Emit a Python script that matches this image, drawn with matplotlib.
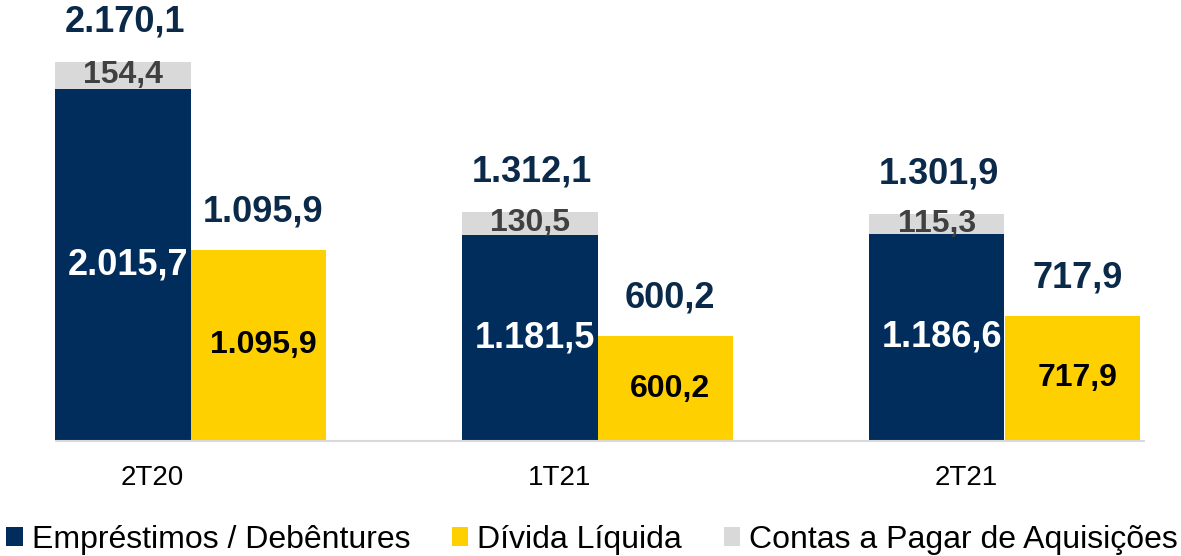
import matplotlib
matplotlib.use("Agg")
import matplotlib.pyplot as plt
from matplotlib.patches import Patch
import numpy as np

categories = ['2T20', '1T21', '2T21']
emprestimos = [2015.7, 1181.5, 1186.6]
contas = [154.4, 130.5, 115.3]
divida = [1095.9, 600.2, 717.9]
totais = [2170.1, 1312.1, 1301.9]
legend_labels = ['Empréstimos / Debêntures', 'Dívida Líquida', 'Contas a Pagar de Aquisições']

NAVY = '#002D5C'
YELLOW = '#FFD000'
GRAY = '#D9D9D9'


def fmt(v):
    return f"{v:,.1f}".replace(',', 'X').replace('.', ',').replace('X', '.')


plt.rcParams['font.family'] = ['Liberation Sans', 'DejaVu Sans']
W, H = 1181, 556
fig = plt.figure(figsize=(W / 100, H / 100), dpi=100)
ax = fig.add_axes([0, 115 / H, 1, 441 / H])

x = np.arange(len(categories))
w = 0.333
spacing_px = 407.0
ax.set_xlim(-190.5 / spacing_px, (W - 190.5) / spacing_px)
ax.set_ylim(0, 441 / 0.1747)

ax.bar(x - w / 2, emprestimos, w, color=NAVY, zorder=2)
ax.bar(x - w / 2, contas, w, bottom=emprestimos, color=GRAY, zorder=2)
ax.bar(x + w / 2, divida, w, color=YELLOW, zorder=2)

ax.hlines(0, -w, 2 + w + 0.012, color='#D9D9D9', lw=1.5, zorder=3, clip_on=False)

for i in range(len(categories)):
    xn = x[i] - w / 2
    xy = x[i] + w / 2
    # totals
    ax.annotate(fmt(totais[i]), (xn, emprestimos[i] + contas[i]), xytext=(2, 40),
                textcoords='offset pixels', ha='center', va='center',
                fontsize=26, fontweight='bold', color='#0B2A4A')
    # navy inner
    ax.annotate(fmt(emprestimos[i]), (xn, emprestimos[i] / 2), xytext=(5, 0),
                textcoords='offset pixels', ha='center', va='center',
                fontsize=26, fontweight='bold', color='white')
    # gray
    ax.annotate(fmt(contas[i]), (xn, emprestimos[i] + contas[i] / 2), xytext=(0, 0),
                textcoords='offset pixels', ha='center', va='center',
                fontsize=23, fontweight='bold', color='#404040')
    # yellow top
    ax.annotate(fmt(divida[i]), (xy, divida[i]), xytext=(5, 38),
                textcoords='offset pixels', ha='center', va='center',
                fontsize=26, fontweight='bold', color='#0B2A4A')
    # yellow inner
    ax.annotate(fmt(divida[i]), (xy, divida[i] / 2), xytext=(5, 0),
                textcoords='offset pixels', ha='center', va='center',
                fontsize=23, fontweight='bold', color='black')

ax.set_xticks(x - 38 / spacing_px)
ax.set_xticklabels(categories, fontsize=20, color='black')
ax.tick_params(axis='x', length=0, pad=17)
ax.set_yticks([])
for s in ax.spines.values():
    s.set_visible(False)

handles = [Patch(facecolor=NAVY), Patch(facecolor=YELLOW), Patch(facecolor=GRAY)]
fig.legend(handles, legend_labels, loc='center', bbox_to_anchor=(592 / W, 16 / H),
           ncol=3, frameon=False, fontsize=23, handlelength=0.52, handleheight=0.52,
           handletextpad=0.28, columnspacing=1.3, borderaxespad=0, borderpad=0)

fig.savefig('out.png', dpi=100)
